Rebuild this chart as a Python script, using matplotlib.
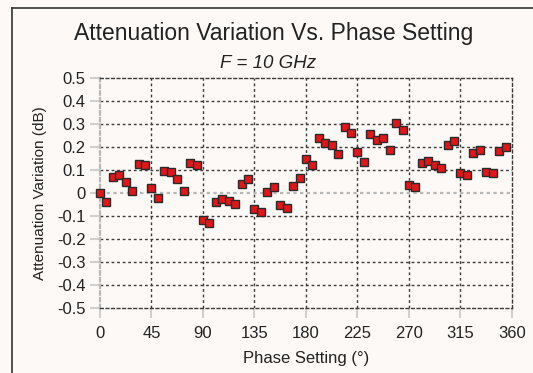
import numpy as np
import matplotlib.pyplot as plt
from matplotlib.lines import Line2D

plt.rcParams['font.family'] = ['Liberation Sans', 'DejaVu Sans']

# phase states, 5.625 deg steps (64 states)
phase = np.arange(64) * 5.625
atten = [0.0, -0.038, 0.072, 0.078, 0.05, 0.009, 0.126, 0.122,
         0.024, -0.022, 0.096, 0.091, 0.063, 0.011, 0.132, 0.124,
         -0.114, -0.129, -0.038, -0.023, -0.035, -0.046, 0.042, 0.062,
         -0.07, -0.081, 0.006, 0.026, -0.051, -0.063, 0.032, 0.068,
         0.149, 0.122, 0.239, 0.22, 0.211, 0.17, 0.288, 0.264,
         0.18, 0.135, 0.258, 0.23, 0.239, 0.187, 0.304, 0.275,
         0.037, 0.029, 0.133, 0.142, 0.124, 0.111, 0.21, 0.226,
         0.088, 0.078, 0.174, 0.19, 0.093, 0.087, 0.185, 0.203]
xticks = [0, 45, 90, 135, 180, 225, 270, 315, 360]
yticks = [-0.5, -0.4, -0.3, -0.2, -0.1, 0, 0.1, 0.2, 0.3, 0.4, 0.5]
ylabels = ['-0.5', '-0.4', '-0.3', '-0.2', '-0.1', '0', '0.1', '0.2', '0.3', '0.4', '0.5']

bg = '#fdf9f6'
fig = plt.figure(figsize=(5.33, 3.73), dpi=100, facecolor=bg)
ax = fig.add_axes([0.1876, 0.1735, 0.7730, 0.6165], facecolor=bg)

dark = '#3a3a3a'
light = '#b8b8b8'
for x in xticks[1:-1]:
    ax.axvline(x, color=dark, lw=1, ls=(0, (2, 2)), zorder=1)
for y in yticks[1:-1]:
    if y == 0:
        ax.axhline(y, color=light, lw=1.6, ls=(0, (1.5, 1.5)), zorder=1)
    else:
        ax.axhline(y, color=dark, lw=1, ls=(0, (2, 2)), zorder=1)

for s in ['top', 'right', 'bottom']:
    ax.spines[s].set_color(dark)
    ax.spines[s].set_linestyle((0, (2, 2)))
    ax.spines[s].set_linewidth(1)
ax.spines['left'].set_color(light)
ax.spines['left'].set_linestyle((0, (1.5, 1.5)))
ax.spines['left'].set_linewidth(1.6)

ax.plot(phase, atten, 's', ms=5.2, mfc='#e0161b', mec='#2a2a2a', mew=1, zorder=3, clip_on=False)

ax.set_xlim(0, 360)
ax.set_ylim(-0.5, 0.5)
ax.set_xticks(xticks)
ax.set_yticks(yticks)
ax.set_yticklabels(ylabels)
ax.tick_params(direction='out', length=7, width=1.5, color='#d0d0d0', labelsize=12,
               labelcolor='#222222', pad=3.5)
ax.tick_params(axis='x', pad=6)

ax.set_xlabel('Phase Setting (°)', fontsize=12, color='#222222', labelpad=7)
ax.set_ylabel('Attenuation Variation (dB)', fontsize=11, color='#222222', labelpad=7)

fig.text(0.514, 0.911, 'Attenuation Variation Vs. Phase Setting', ha='center', va='center',
         fontsize=16.5, color='#222222')
fig.text(0.503, 0.831, 'F = 10 GHz', ha='center', va='center', fontsize=13.5,
         style='italic', color='#222222')

# cropped outer frame (left and top edges)
fig.add_artist(Line2D([12 / 533, 12 / 533], [0, 1 - 8 / 373], transform=fig.transFigure,
                      color='#333333', lw=1.2))
fig.add_artist(Line2D([12 / 533, 1], [1 - 8 / 373, 1 - 8 / 373], transform=fig.transFigure,
                      color='#333333', lw=1.2))

fig.savefig('out.png', dpi=100, facecolor=bg)
